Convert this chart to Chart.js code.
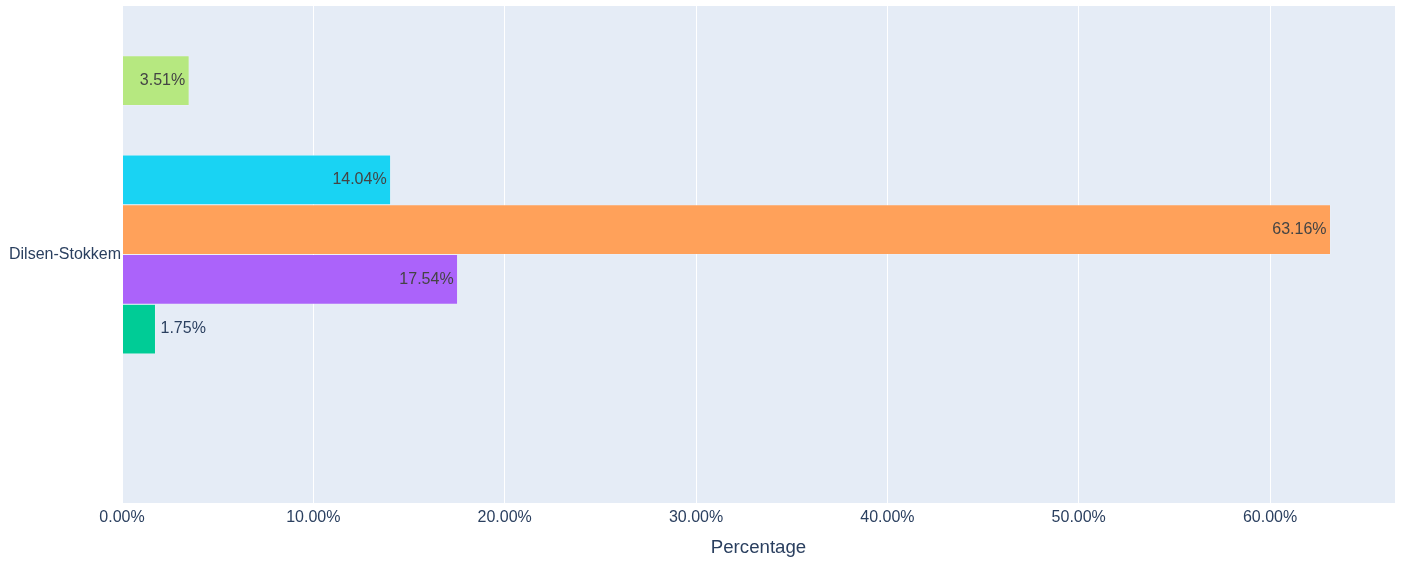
<!DOCTYPE html>
<html>
<head>
<meta charset="utf-8">
<script src="https://cdn.jsdelivr.net/npm/chart.js@4"></script>
<style>
  html, body { margin: 0; padding: 0; background: #fff; }
  #wrap { width: 1405px; height: 561px; }
</style>
</head>
<body>
<div id="wrap"><canvas id="chart"></canvas></div>
<script>
// data
var categories = ["Dilsen-Stokkem"];
var seriesNames = ["Series 8", "Series 7", "Series 6", "Series 5", "Series 4", "Series 3", "Series 2", "Series 1"];
var seriesValues = [0.0351, 0, 0.1404, 0.6316, 0.1754, 0.0175, 0, 0];
var seriesColors = ["#B6E880", "#FF6692", "#19D3F3", "#FFA15A", "#AB63FA", "#00CC96", "#EF553B", "#636EFA"];
var xTicks = [0, 0.1, 0.2, 0.3, 0.4, 0.5, 0.6];

var fontFamily = '"Liberation Sans", Arial, sans-serif';

function pct(v) {
  return (v * 100).toFixed(2) + "%";
}

// plot background
var plotBg = {
  id: "plotBg",
  beforeDraw: function (chart) {
    var a = chart.chartArea;
    var ctx = chart.ctx;
    ctx.save();
    ctx.fillStyle = "#E5ECF6";
    ctx.fillRect(a.left, a.top, a.right - a.left, a.bottom - a.top);
    ctx.restore();
  }
};

// value labels on bars
var barLabels = {
  id: "barLabels",
  afterDatasetsDraw: function (chart) {
    var ctx = chart.ctx;
    ctx.save();
    ctx.font = "16px " + fontFamily;
    ctx.textBaseline = "middle";
    chart.data.datasets.forEach(function (ds, i) {
      var meta = chart.getDatasetMeta(i);
      meta.data.forEach(function (bar, j) {
        var v = ds.data[j];
        if (!v) return;
        var txt = pct(v);
        var w = ctx.measureText(txt).width;
        var len = bar.x - bar.base;
        if (w + 8 < len) {
          ctx.fillStyle = "#444444";
          ctx.textAlign = "right";
          ctx.fillText(txt, bar.x - 4, bar.y);
        } else {
          ctx.fillStyle = "#2a3f5f";
          ctx.textAlign = "left";
          ctx.fillText(txt, bar.x + 5, bar.y);
        }
      });
    });
    ctx.restore();
  }
};

var datasets = seriesNames.map(function (name, i) {
  return {
    label: name,
    data: [seriesValues[i]],
    backgroundColor: seriesColors[i],
    borderColor: "rgba(255,255,255,0.6)",
    borderWidth: 0.5,
    categoryPercentage: 0.8,
    barPercentage: 1.0
  };
});

new Chart("chart", {
  type: "bar",
  data: {
    labels: categories,
    datasets: datasets
  },
  options: {
    indexAxis: "y",
    responsive: true,
    maintainAspectRatio: false,
    animation: false,
    layout: { padding: { top: 6, right: 10, bottom: 0, left: 0 } },
    plugins: {
      legend: { display: false },
      tooltip: { enabled: false }
    },
    scales: {
      x: {
        type: "linear",
        min: 0,
        max: 0.6653,
        afterBuildTicks: function (scale) {
          scale.ticks = xTicks.map(function (v) { return { value: v }; });
        },
        afterFit: function (scale) { scale.height = 58; },
        grid: {
          color: "#ffffff",
          lineWidth: function (c) { return c.tick && c.tick.value === 0 ? 2 : 1; },
          drawTicks: false
        },
        border: { display: false },
        ticks: {
          padding: 5,
          color: "#2a3f5f",
          font: { family: fontFamily, size: 16 },
          callback: function (v) { return pct(v); }
        },
        title: {
          display: true,
          text: "Percentage",
          color: "#2a3f5f",
          font: { family: fontFamily, size: 18.67 },
          padding: { top: 0, bottom: 2 }
        }
      },
      y: {
        afterFit: function (scale) {
          scale.width = 122;
          scale.paddingTop = 0;
          scale.paddingBottom = 0;
        },
        grid: { display: false, drawTicks: false },
        border: { display: false },
        ticks: {
          padding: 1,
          color: "#2a3f5f",
          font: { family: fontFamily, size: 16 }
        }
      }
    }
  },
  plugins: [plotBg, barLabels]
});
</script>
</body>
</html>
